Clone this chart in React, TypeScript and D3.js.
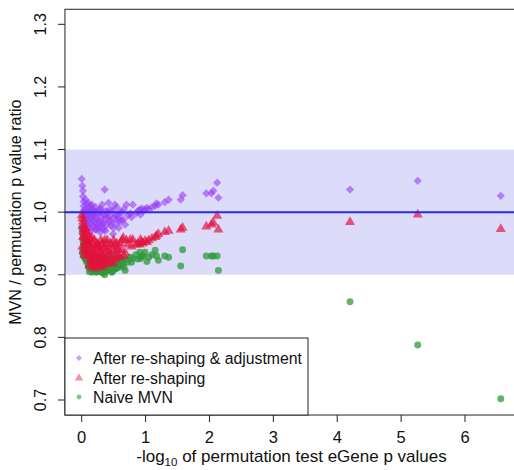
import React from 'react';
import * as d3 from 'd3';

// -log10 permutation p (shared by the three series)
const xVals = [
  0.0, 0.01, 0.02, 0.02, 0.03, 0.03, 0.04, 0.05, 0.05, 0.06, 0.07, 0.08, 0.09, 0.1, 0.11, 0.12, 0.13, 0.14,
  0.15, 0.16, 0.17, 0.18, 0.19, 0.2, 0.21, 0.22, 0.23, 0.24, 0.25, 0.26, 0.28, 0.29, 0.3, 0.31, 0.32, 0.33,
  0.34, 0.35, 0.36, 0.37, 0.38, 0.4, 0.42, 0.43, 0.44, 0.46, 0.48, 0.49, 0.5, 0.52, 0.54, 0.56, 0.58, 0.6,
  0.62, 0.65, 0.68, 0.7, 0.72, 0.76, 0.78, 0.8, 0.85, 0.88, 0.91, 0.92, 0.94, 0.96, 0.99, 1.02, 1.05, 1.1,
  1.15, 1.17, 1.2, 1.3, 1.36, 1.55, 1.58, 1.95, 2.03, 2.06, 2.12, 2.14, 4.2, 5.26, 6.56,
  0.01, 0.02, 0.03, 0.04, 0.06, 0.07, 0.08, 0.09, 0.1, 0.11, 0.12, 0.13, 0.14, 0.16, 0.17, 0.18, 0.2, 0.21,
  0.22, 0.24, 0.26, 0.27, 0.28, 0.3, 0.32, 0.33, 0.35, 0.38, 0.4, 0.41, 0.45, 0.47, 0.5, 0.53, 0.55, 0.57,
  0.6, 0.63, 0.66
];
const adjusted = [
  1.053, 1.042, 1.034, 1.025, 1.017, 1.01, 1.004, 0.998, 0.992, 0.986, 0.98, 1.0, 1.012, 0.995, 0.988, 1.005, 0.975, 1.01,
  0.982, 1.012, 0.995, 0.978, 1.002, 0.985, 0.972, 1.008, 0.972, 0.99, 0.998, 0.98, 1.005, 0.968, 0.992, 0.985, 1.012, 0.975,
  0.983, 0.995, 1.036, 0.97, 0.99, 1.0, 1.015, 0.985, 0.994, 0.978, 1.002, 0.965, 0.99, 1.012, 0.982, 0.995, 0.975, 1.0,
  0.988, 0.988, 0.98, 1.012, 0.995, 0.998, 0.992, 1.012, 0.998, 1.002, 1.004, 0.996, 1.006, 1.002, 1.004, 1.007, 1.005, 1.008,
  1.01, 1.014, 1.012, 1.016, 1.02, 1.02, 1.027, 1.03, 1.03, 1.034, 1.047, 1.023, 1.036, 1.05, 1.026,
  0.975, 1.0, 0.985, 0.97, 1.02, 1.005, 0.99, 0.978, 1.015, 1.0, 0.985, 0.995, 0.97, 0.99, 1.005, 0.995, 1.0, 0.99,
  0.98, 0.975, 1.0, 0.985, 0.975, 1.005, 0.98, 0.998, 0.972, 1.002, 0.98, 0.992, 1.005, 0.985, 0.975, 0.995, 1.008, 0.99,
  0.985, 1.0, 1.005
];
const reshaped = [
  0.995, 0.99, 0.985, 0.978, 0.972, 0.968, 0.962, 0.958, 0.952, 0.946, 0.94, 0.955, 0.965, 0.935, 0.93, 0.95, 0.925, 0.945,
  0.922, 0.96, 0.94, 0.92, 0.935, 0.918, 0.928, 0.945, 0.915, 0.932, 0.948, 0.925, 0.94, 0.918, 0.93, 0.935, 0.95, 0.92,
  0.928, 0.945, 0.955, 0.922, 0.938, 0.948, 0.94, 0.93, 0.935, 0.925, 0.945, 0.92, 0.938, 0.948, 0.932, 0.942, 0.93, 0.95,
  0.94, 0.959, 0.935, 0.955, 0.948, 0.956, 0.945, 0.956, 0.948, 0.95, 0.948, 0.956, 0.952, 0.95, 0.954, 0.952, 0.955, 0.958,
  0.96, 0.962, 0.965, 0.968, 0.97, 0.972, 0.975, 0.977, 0.98, 0.983, 0.994, 0.972, 0.984, 0.996, 0.973,
  0.945, 0.96, 0.938, 0.932, 0.975, 0.97, 0.948, 0.93, 0.962, 0.95, 0.915, 0.958, 0.94, 0.912, 0.952, 0.93, 0.955, 0.942,
  0.91, 0.95, 0.915, 0.945, 0.928, 0.955, 0.912, 0.942, 0.915, 0.925, 0.955, 0.918, 0.95, 0.918, 0.955, 0.925, 0.95, 0.94,
  0.928, 0.955, 0.93
];
const naive = [
  0.975, 0.968, 0.96, 0.955, 0.95, 0.945, 0.94, 0.936, 0.93, 0.925, 0.922, 0.93, 0.935, 0.915, 0.912, 0.925, 0.91, 0.92,
  0.908, 0.928, 0.918, 0.91, 0.915, 0.906, 0.911, 0.922, 0.904, 0.912, 0.925, 0.908, 0.918, 0.905, 0.91, 0.913, 0.928, 0.903,
  0.908, 0.92, 0.9, 0.905, 0.915, 0.918, 0.912, 0.908, 0.91, 0.906, 0.915, 0.906, 0.912, 0.92, 0.91, 0.916, 0.912, 0.922,
  0.915, 0.918, 0.907, 0.925, 0.92, 0.928, 0.92, 0.926, 0.932, 0.925, 0.936, 0.926, 0.93, 0.93, 0.936, 0.921, 0.928, 0.932,
  0.939, 0.93, 0.923, 0.93, 0.928, 0.914, 0.94, 0.93, 0.93, 0.93, 0.93, 0.907, 0.857, 0.788, 0.702,
  0.935, 0.94, 0.93, 0.928, 0.95, 0.945, 0.932, 0.92, 0.935, 0.928, 0.905, 0.93, 0.918, 0.904, 0.925, 0.912, 0.93, 0.92,
  0.906, 0.93, 0.905, 0.918, 0.91, 0.928, 0.906, 0.92, 0.904, 0.908, 0.93, 0.908, 0.925, 0.904, 0.93, 0.91, 0.922, 0.914,
  0.92, 0.925, 0.912
];

const xTicks = [0, 1, 2, 3, 4, 5, 6];
const yTicks = [0.7, 0.8, 0.9, 1.0, 1.1, 1.2, 1.3];
const legendLabels = ['After re-shaping & adjustment', 'After re-shaping', 'Naive MVN'];

const font = 'Liberation Sans, Arial, Helvetica, sans-serif';
const purple = '#9a3cf5';
const red = '#e4103c';
const green = '#2f9a3a';

const App = () => {
  const width = 514;
  const height = 470;
  const x = d3.scaleLinear().domain([0, 6]).range([81.7, 465]);
  const y = d3.scaleLinear().domain([0.7, 1.3]).range([400, 24.3]);
  const left = x(-0.262);
  const right = x(6.83);
  const top = y(1.324);
  const bottom = y(0.676);

  const diamond = d3.symbol().type(d3.symbolSquare).size(34)();
  const triangle = d3.symbol().type(d3.symbolTriangle).size(44)();
  const circle = d3.symbol().type(d3.symbolCircle).size(38)();
  const lDiamond = d3.symbol().type(d3.symbolSquare).size(18)();
  const lTriangle = d3.symbol().type(d3.symbolTriangle).size(30)();
  const lCircle = d3.symbol().type(d3.symbolCircle).size(18)();

  const legendTop = 338;
  const legendRight = 308;
  const rowY = [358, 378, 397];

  return (
    <svg
      width={width}
      height={height}
      style={{ position: 'absolute', left: 0, top: 0, background: '#fff' }}
      fontFamily={font}
    >
      <rect x={left} y={y(1.1)} width={right - left} height={y(0.9) - y(1.1)} fill="#dcdcfa" />

      {xVals.map((v, i) => (
        <path
          key={'g' + i}
          d={circle}
          transform={`translate(${x(v)},${y(naive[i])})`}
          fill={green}
          fillOpacity={0.75}
        />
      ))}
      {xVals.map((v, i) => (
        <path
          key={'p' + i}
          d={diamond}
          transform={`translate(${x(v)},${y(adjusted[i])}) rotate(45)`}
          fill={purple}
          fillOpacity={0.6}
        />
      ))}
      {xVals.map((v, i) => (
        <path
          key={'r' + i}
          d={triangle}
          transform={`translate(${x(v)},${y(reshaped[i])})`}
          fill={red}
          fillOpacity={0.68}
        />
      ))}

      <line x1={left} x2={right} y1={y(1)} y2={y(1)} stroke="#2a2ae8" strokeWidth={2} />

      <rect x={left} y={top} width={right - left} height={bottom - top} fill="none" stroke="#222" strokeWidth={1} />

      {xTicks.map((t) => (
        <g key={'xt' + t}>
          <line x1={x(t)} x2={x(t)} y1={bottom} y2={bottom + 7} stroke="#222" />
          <text x={x(t)} y={443} fontSize={16.5} textAnchor="middle" fill="#111">
            {t}
          </text>
        </g>
      ))}
      {yTicks.map((t) => (
        <g key={'yt' + t}>
          <line x1={left} x2={left - 7} y1={y(t)} y2={y(t)} stroke="#222" />
          <text
            transform={`translate(46,${y(t)}) rotate(-90)`}
            fontSize={16}
            textAnchor="middle"
            fill="#111"
          >
            {t.toFixed(1)}
          </text>
        </g>
      ))}

      <text x={(left + right) / 2} y={462} fontSize={17} textAnchor="middle" fill="#111">
        -log
        <tspan fontSize={11.5} dy={4}>10</tspan>
        <tspan dy={-4}> of permutation test eGene p values</tspan>
      </text>
      <text
        transform={`translate(21,${(top + bottom) / 2}) rotate(-90)`}
        fontSize={16}
        textAnchor="middle"
        fill="#111"
      >
        MVN / permutation p value ratio
      </text>

      <rect x={left} y={legendTop} width={legendRight - left} height={bottom - legendTop} fill="#fff" stroke="#222" />
      <path d={lDiamond} transform={`translate(79,${rowY[0]}) rotate(45)`} fill={purple} fillOpacity={0.5} />
      <path d={lTriangle} transform={`translate(79,${rowY[1]})`} fill={red} fillOpacity={0.45} />
      <path d={lCircle} transform={`translate(79,${rowY[2]})`} fill={green} fillOpacity={0.6} />
      {legendLabels.map((l, i) => (
        <text key={l} x={93} y={rowY[i] + 5.5} fontSize={15.8} fill="#111">
          {l}
        </text>
      ))}
    </svg>
  );
};

export default App;
